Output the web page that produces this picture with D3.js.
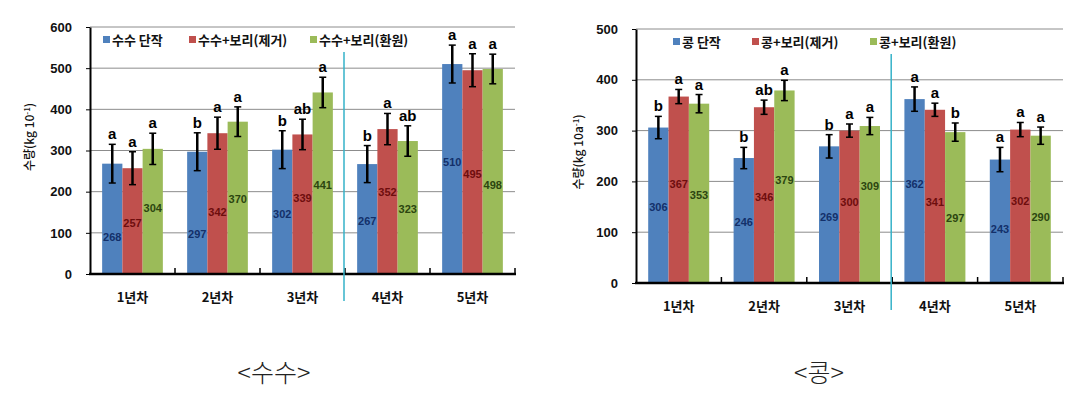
<!doctype html>
<html>
  <head>
    <meta charset="utf-8">
    <title>수수 / 콩 수량</title>
    <script src="https://cdn.jsdelivr.net/npm/d3@7"></script>
    <style>
      body { margin: 0; background: #fff; }
      svg { display: block; font-family: "Noto Sans CJK KR", "Noto Sans", sans-serif; }
      .grid line { stroke: #8c8c8c; stroke-width: 1; }
      .yaxis text { font-size: 13px; font-weight: 600; fill: #111; }
      .yaxis path, .yaxis line { stroke: #000; }
      .val { font-family: "Liberation Sans", sans-serif; font-size: 11px; font-weight: bold; }
      .sig { font-family: "Liberation Sans", sans-serif; font-size: 15px; font-weight: bold; fill: #000; }
      .legend text { font-size: 13px; font-weight: 600; fill: #111; }
      .xlab { font-size: 13px; font-weight: 600; fill: #111; }
      .ytitle { font-size: 12px; font-weight: 500; fill: #111; }
      .title { font-size: 25px; font-weight: 300; fill: #222; }
    </style>
  </head>
  <body>
    <div id="chart"></div>
    <script>
      var years = ['1년차', '2년차', '3년차', '4년차', '5년차'];
      var colors = ['#4f81bd', '#c0504d', '#9bbb59'];
      var labelColors = ['#13306a', '#6e0d0d', '#2c4510'];

      // 수수
      var sorghumNames = ['수수 단작', '수수+보리(제거)', '수수+보리(환원)'];
      var sorghumMono = [268, 297, 302, 267, 510];
      var sorghumRemove = [257, 342, 339, 352, 495];
      var sorghumReturn = [304, 370, 441, 323, 498];
      var sorghumErrMono = [47, 46, 46, 45, 46];
      var sorghumErrRemove = [40, 39, 37, 38, 40];
      var sorghumErrReturn = [38, 36, 37, 37, 36];
      var sorghumSigMono = ['a', 'b', 'b', 'b', 'a'];
      var sorghumSigRemove = ['a', 'a', 'ab', 'a', 'a'];
      var sorghumSigReturn = ['a', 'a', 'a', 'ab', 'a'];
      // where the value label sits on each bar (kg)
      var sorghumLabelMono = [90, 97, 146, 129, 272];
      var sorghumLabelRemove = [124, 150, 184, 199, 243];
      var sorghumLabelReturn = [160, 182, 216, 158, 216];
      var sorghumTicks = [0, 100, 200, 300, 400, 500, 600];

      // 콩
      var soyNames = ['콩 단작', '콩+보리(제거)', '콩+보리(환원)'];
      var soyMono = [306, 246, 269, 362, 243];
      var soyRemove = [367, 346, 300, 341, 302];
      var soyReturn = [353, 379, 309, 297, 290];
      var soyErrMono = [22, 21, 23, 24, 24];
      var soyErrRemove = [14, 14, 13, 13, 14];
      var soyErrReturn = [18, 20, 17, 18, 17];
      var soySigMono = ['b', 'b', 'b', 'a', 'a'];
      var soySigRemove = ['a', 'ab', 'a', 'a', 'a'];
      var soySigReturn = ['a', 'a', 'a', 'b', 'a'];
      var soyLabelMono = [150, 121, 130, 194, 106];
      var soyLabelRemove = [195, 170, 159, 160, 161];
      var soyLabelReturn = [173, 203, 190, 127, 130];
      var soyTicks = [0, 100, 200, 300, 400, 500];

      var svg = d3.select('#chart').append('svg')
        .attr('width', 1086)
        .attr('height', 407);

      svg.append('rect').attr('width', 1086).attr('height', 407).attr('fill', '#fff');

      function drawChart(o) {
        var g = svg.append('g');
        var y = d3.scaleLinear().domain([0, d3.max(o.ticks)]).range([o.bottom, o.top]);
        var x = d3.scaleBand().domain(years).range([o.left, o.right]);
        var xs = d3.scaleBand().domain([0, 1, 2]).range([0, x.bandwidth()])
          .paddingInner(0).paddingOuter(0.6);

        // grid
        g.append('g').attr('class', 'grid')
          .selectAll('line').data(o.ticks.slice(1)).enter()
          .append('line')
          .attr('x1', o.left).attr('x2', o.right)
          .attr('y1', function(d) { return y(d); })
          .attr('y2', function(d) { return y(d); });

        // legend
        var leg = g.append('g').attr('class', 'legend');
        o.names.forEach(function(name, i) {
          var lx = o.legendX[i];
          leg.append('rect').attr('x', lx).attr('y', o.top + 9)
            .attr('width', 7).attr('height', 7).attr('fill', colors[i]);
          leg.append('text').attr('x', lx + 9).attr('y', o.top + 17.5).text(name);
        });

        // bars
        var rows = [];
        years.forEach(function(yr, i) {
          o.series.forEach(function(s, j) {
            rows.push({ year: yr, j: j, v: s.values[i], e: s.err[i], sig: s.sig[i], lab: s.label[i] });
          });
        });

        var bar = g.selectAll('g.bar').data(rows).enter().append('g').attr('class', 'bar');
        bar.append('rect')
          .attr('x', function(d) { return x(d.year) + xs(d.j); })
          .attr('width', xs.bandwidth())
          .attr('y', function(d) { return y(d.v); })
          .attr('height', function(d) { return y(0) - y(d.v); })
          .attr('fill', function(d) { return colors[d.j]; });

        bar.append('text').attr('class', 'val')
          .attr('x', function(d) { return x(d.year) + xs(d.j) + xs.bandwidth() / 2; })
          .attr('y', function(d) { return y(d.lab) + 4; })
          .attr('text-anchor', 'middle')
          .attr('fill', function(d) { return labelColors[d.j]; })
          .text(function(d) { return d.v; });

        // error bars
        var cx = function(d) { return x(d.year) + xs(d.j) + xs.bandwidth() / 2; };
        bar.append('line')
          .attr('x1', cx).attr('x2', cx)
          .attr('y1', function(d) { return y(d.v + d.e); })
          .attr('y2', function(d) { return y(d.v - d.e); })
          .attr('stroke', '#000').attr('stroke-width', 2.5);
        [1, -1].forEach(function(sg) {
          bar.append('line')
            .attr('x1', function(d) { return cx(d) - 3.5; })
            .attr('x2', function(d) { return cx(d) + 3.5; })
            .attr('y1', function(d) { return y(d.v + sg * d.e); })
            .attr('y2', function(d) { return y(d.v + sg * d.e); })
            .attr('stroke', '#000').attr('stroke-width', 1.5);
        });

        bar.append('text').attr('class', 'sig')
          .attr('x', cx)
          .attr('y', function(d) { return y(d.v + d.e) - 5; })
          .attr('text-anchor', 'middle')
          .text(function(d) { return d.sig; });

        // y axis
        var ya = g.append('g').attr('class', 'yaxis')
          .attr('transform', 'translate(' + o.left + ',0)')
          .call(d3.axisLeft(y).tickValues(o.ticks).tickSize(4).tickPadding(14).tickSizeOuter(0));
        ya.select('.domain').attr('stroke-width', 2);

        // x axis
        g.append('line').attr('x1', o.left - 1).attr('x2', o.right + 1)
          .attr('y1', y(0)).attr('y2', y(0))
          .attr('stroke', '#000').attr('stroke-width', 2.5);
        g.selectAll('line.xt').data(years.slice(1).concat(['end'])).enter()
          .append('line').attr('class', 'xt')
          .attr('x1', function(d) { return d === 'end' ? o.right : x(d); })
          .attr('x2', function(d) { return d === 'end' ? o.right : x(d); })
          .attr('y1', y(0)).attr('y2', y(0) - 6)
          .attr('stroke', '#000').attr('stroke-width', 1.5);
        g.selectAll('text.xlab').data(years).enter()
          .append('text').attr('class', 'xlab')
          .attr('x', function(d) { return x(d) + x.bandwidth() / 2; })
          .attr('y', y(0) + 28)
          .attr('text-anchor', 'middle')
          .text(function(d) { return d; });

        // divider between 3년차 and 4년차
        g.append('line')
          .attr('x1', x('4년차') - 1).attr('x2', x('4년차') - 1)
          .attr('y1', o.top + 25).attr('y2', y(0) + 27)
          .attr('stroke', '#35b2c9').attr('stroke-width', 1.5);

        // y title
        var yt = g.append('text').attr('class', 'ytitle')
          .attr('transform', 'translate(' + o.ytitleX + ',' + o.ytitleY + ') rotate(-90)')
          .attr('text-anchor', 'middle');
        yt.append('tspan').text(o.unit[0]);
        yt.append('tspan').attr('font-size', '8px').attr('dy', -4).text(o.unit[1]);
        yt.append('tspan').attr('dy', 4).text(')');

        // title
        g.append('text').attr('class', 'title')
          .attr('x', o.titleX).attr('y', 382)
          .attr('text-anchor', 'middle')
          .text(o.title);
      }

      drawChart({
        left: 90, right: 515, top: 27, bottom: 274,
        ticks: sorghumTicks,
        names: sorghumNames,
        legendX: [103, 189, 310],
        series: [
          { values: sorghumMono, err: sorghumErrMono, sig: sorghumSigMono, label: sorghumLabelMono },
          { values: sorghumRemove, err: sorghumErrRemove, sig: sorghumSigRemove, label: sorghumLabelRemove },
          { values: sorghumReturn, err: sorghumErrReturn, sig: sorghumSigReturn, label: sorghumLabelReturn }
        ],
        unit: ['수량(kg 10', '-1'],
        ytitleX: 34, ytitleY: 137,
        title: '<수수>', titleX: 274
      });

      drawChart({
        left: 636, right: 1063, top: 29, bottom: 283,
        ticks: soyTicks,
        names: soyNames,
        legendX: [673, 752, 870],
        series: [
          { values: soyMono, err: soyErrMono, sig: soySigMono, label: soyLabelMono },
          { values: soyRemove, err: soyErrRemove, sig: soySigRemove, label: soyLabelRemove },
          { values: soyReturn, err: soyErrReturn, sig: soySigReturn, label: soyLabelReturn }
        ],
        unit: ['수량(kg 10a', '-1'],
        ytitleX: 583, ytitleY: 152,
        title: '<콩>', titleX: 819
      });
    </script>
  </body>
</html>
